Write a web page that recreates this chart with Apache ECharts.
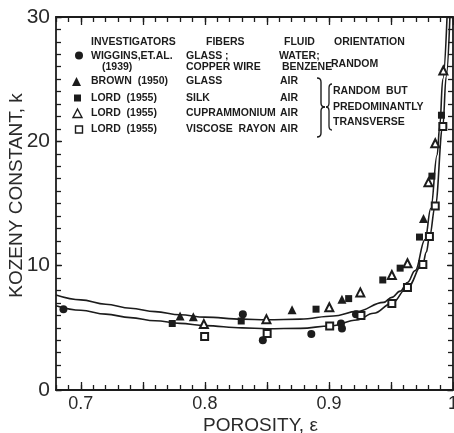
<!DOCTYPE html>
<html>
<head>
<meta charset="utf-8">
<script src="https://cdn.jsdelivr.net/npm/echarts@6/dist/echarts.min.js"></script>
<style>
  html, body { margin: 0; padding: 0; background: #fff; }
  #chart { width: 454px; height: 433px; }
</style>
</head>
<body>
<div id="chart"></div>
<script>
// Measured Kozeny constants, [porosity, k]
const wiggins1939 = [[0.686, 6.5], [0.8306, 6.1], [0.8467, 4.0], [0.8858, 4.5], [0.9097, 5.35], [0.9105, 4.95], [0.9218, 6.1]];
const brown1950 = [[0.780, 5.95], [0.7907, 5.9], [0.8703, 6.45], [0.9105, 7.3], [0.9762, 13.8]];
const lordSilk = [[0.7737, 5.35], [0.8293, 5.55], [0.8896, 6.5], [0.9159, 7.35], [0.9434, 8.85], [0.9574, 9.8], [0.973, 12.3], [0.983, 17.2], [0.9907, 22.1]];
const lordCupra = [[0.7992, 5.3], [0.8496, 5.7], [0.9003, 6.65], [0.9253, 7.85], [0.9507, 9.25], [0.9633, 10.2], [0.9802, 16.7], [0.9857, 19.85], [0.9922, 25.7]];
const lordViscose = [[0.7998, 4.3], [0.8502, 4.55], [0.9006, 5.15], [0.9258, 6.0], [0.9507, 6.95], [0.9633, 8.25], [0.9757, 10.1], [0.981, 12.35], [0.9857, 14.8], [0.9918, 21.2]];

// Theoretical curves, [porosity, k]
const upperCurve = [[0.68, 7.64], [0.70, 7.25], [0.72, 6.9], [0.74, 6.58], [0.76, 6.3], [0.78, 6.05], [0.80, 5.86], [0.83, 5.7], [0.85, 5.65], [0.877, 5.7], [0.9035, 5.95], [0.9226, 6.32], [0.944, 7.05], [0.9507, 7.45], [0.9574, 7.95], [0.9633, 8.65], [0.9695, 9.6], [0.9775, 12.1], [0.9821, 14.6], [0.9872, 18.9], [0.9893, 21.2], [0.9918, 25.0], [0.9952, 30]];
const lowerCurve = [[0.68, 6.78], [0.70, 6.42], [0.72, 6.1], [0.74, 5.82], [0.76, 5.57], [0.78, 5.36], [0.80, 5.18], [0.83, 5.0], [0.85, 4.93], [0.877, 4.96], [0.9011, 5.15], [0.9226, 5.63], [0.936, 6.17], [0.9507, 6.97], [0.9633, 8.25], [0.9757, 10.15], [0.9785, 11.1], [0.981, 12.3], [0.9857, 14.8], [0.9918, 21.2], [0.9945, 25.2], [0.9975, 30]];

// Axis ticks and labels
const xLabelValues = [0.7, 0.8, 0.9, 1.0];
const xMajorTicks = [0.7, 0.75, 0.8, 0.85, 0.9, 0.95, 1.0];
const xMinorTicks = [];
for (let i = 68; i <= 100; i++) xMinorTicks.push(i / 100);
const yLabelValues = [0, 10, 20, 30];
const yMinorTicks = [];
for (let i = 0; i <= 30; i++) yMinorTicks.push(i);

// Legend table text
const legendHeader = ['INVESTIGATORS', 'FIBERS', 'FLUID', 'ORIENTATION'];
const investigators = ['WIGGINS,ET.AL.', 'BROWN  (1950)', 'LORD  (1955)', 'LORD  (1955)', 'LORD  (1955)'];
const fibers = ['GLASS ;', 'GLASS', 'SILK', 'CUPRAMMONIUM', 'VISCOSE  RAYON'];
const fluids = ['WATER;', 'AIR', 'AIR', 'AIR', 'AIR'];
const orientationNote = ['RANDOM  BUT', 'PREDOMINANTLY', 'TRANSVERSE'];

const INK = '#1c1c1c';
const AX_FONT = 'Liberation Sans';
const TBL_FONT = 'bold 10.5px "Liberation Sans", Arial, sans-serif';

const chart = echarts.init(document.getElementById('chart'), null, { renderer: 'canvas' });

const gridBox = { left: 56, right: 1, top: 17, bottom: 43, outerBoundsMode: 'none' };

function xAx(gridIndex, position, ticks, len, showLine, labels, name) {
  return {
    type: 'value', gridIndex, position, min: 0.68, max: 1.0,
    axisLine: { show: showLine, onZero: false, lineStyle: { color: INK, width: 1.8 } },
    axisTick: { show: true, inside: true, length: len, customValues: ticks, lineStyle: { color: INK, width: 1.3 } },
    axisLabel: labels ? {
      show: true, customValues: xLabelValues, margin: 5, color: '#2a2a2a',
      fontFamily: AX_FONT, fontSize: 18,
      formatter: v => (Math.abs(v - 1) < 1e-9 ? '1' : v.toFixed(1))
    } : { show: false },
    splitLine: { show: false },
    name: name || '',
    nameLocation: 'middle', nameGap: 26, nameMoveOverlap: false,
    nameTextStyle: { color: '#2a2a2a', fontFamily: AX_FONT, fontSize: 19, padding: [0, 0, 0, 12] }
  };
}

function yAx(gridIndex, position, ticks, len, showLine, labels, name) {
  return {
    type: 'value', gridIndex, position, min: 0, max: 30,
    axisLine: { show: showLine, onZero: false, lineStyle: { color: INK, width: 1.8 } },
    axisTick: { show: true, inside: true, length: len, customValues: ticks, lineStyle: { color: INK, width: 1.3 } },
    axisLabel: labels ? {
      show: true, customValues: yLabelValues, margin: 6, color: '#2a2a2a',
      fontFamily: AX_FONT, fontSize: 21
    } : { show: false },
    splitLine: { show: false },
    name: name || '',
    nameLocation: 'middle', nameGap: 30, nameRotate: 90, nameMoveOverlap: false,
    nameTextStyle: { color: '#2a2a2a', fontFamily: AX_FONT, fontSize: 19, padding: [0, 0, 0, 16] }
  };
}

// Legend graphics
const graphics = [];
function txt(s, x, y, font) {
  graphics.push({ type: 'text', x, y, silent: true,
    style: { text: s, font: font || TBL_FONT, fill: INK, align: 'left', verticalAlign: 'middle' } });
}
const colX = [91, 206, 284, 334];
legendHeader.forEach((h, i) => txt(h, colX[i], 42));
const rowY = [56.5, 81.5, 98, 113.5, 129];
investigators.forEach((s, i) => txt(s, 91, rowY[i]));
txt('(1939)', 102, 67.5);
fibers.forEach((s, i) => txt(s, 186, rowY[i]));
txt('COPPER WIRE', 186, 67.5);
fluids.forEach((s, i) => txt(s, i === 0 ? 279 : 280, i === 0 ? 56 : rowY[i]));
txt('BENZENE', 282, 67.5);
txt('RANDOM', 331, 64);
orientationNote.forEach((s, i) => txt(s, 333, [91, 107, 122.5][i]));

// Curly braces built from straight and quadratic segments
function brace(xEdge, xMid, xTip, yTop, yMid, yBot, width) {
  const st = { stroke: INK, fill: null, lineWidth: width };
  const r = 4;
  graphics.push({ type: 'bezierCurve', silent: true, shape: { x1: xEdge, y1: yTop, x2: xMid, y2: yTop + r, cpx1: xMid, cpy1: yTop }, style: st });
  graphics.push({ type: 'line', silent: true, shape: { x1: xMid, y1: yTop + r, x2: xMid, y2: yMid - r }, style: st });
  graphics.push({ type: 'bezierCurve', silent: true, shape: { x1: xMid, y1: yMid - r, x2: xTip, y2: yMid, cpx1: xMid, cpy1: yMid }, style: st });
  graphics.push({ type: 'bezierCurve', silent: true, shape: { x1: xTip, y1: yMid, x2: xMid, y2: yMid + r, cpx1: xMid, cpy1: yMid }, style: st });
  graphics.push({ type: 'line', silent: true, shape: { x1: xMid, y1: yMid + r, x2: xMid, y2: yBot - r }, style: st });
  graphics.push({ type: 'bezierCurve', silent: true, shape: { x1: xMid, y1: yBot - r, x2: xEdge, y2: yBot, cpx1: xMid, cpy1: yBot }, style: st });
}
brace(317, 321, 325, 78, 107, 137, 1.4);
brace(332, 329, 326, 84, 107, 130, 1.3);

// Legend symbols
graphics.push({ type: 'circle', silent: true, shape: { cx: 79, cy: 55.5, r: 4 }, style: { fill: INK } });
graphics.push({ type: 'polygon', silent: true, shape: { points: [[76.5, 77], [81, 86], [72, 86]] }, style: { fill: INK } });
graphics.push({ type: 'rect', silent: true, shape: { x: 74, y: 94.5, width: 7, height: 7 }, style: { fill: INK } });
graphics.push({ type: 'polygon', silent: true, shape: { points: [[77.5, 109], [82, 117.5], [73, 117.5]] }, style: { fill: '#fff', stroke: INK, lineWidth: 1.4 } });
graphics.push({ type: 'rect', silent: true, shape: { x: 75.5, y: 126, width: 7, height: 7 }, style: { fill: '#fff', stroke: INK, lineWidth: 1.4 } });

function scatter(name, data, symbol, size) {
  return {
    type: 'scatter', name, data, symbol, symbolSize: size,
    xAxisIndex: 0, yAxisIndex: 0, z: 4,
    itemStyle: { color: INK, borderColor: INK, borderWidth: symbol.startsWith('empty') ? 1.4 : 0, opacity: 1 },
    emphasis: { disabled: true }
  };
}

function curve(name, data) {
  return {
    type: 'line', name, data, smooth: 0.4, smoothMonotone: 'x', showSymbol: false,
    xAxisIndex: 0, yAxisIndex: 0, z: 3, clip: true,
    lineStyle: { color: INK, width: 1.6 }, emphasis: { disabled: true }
  };
}

chart.setOption({
  animation: false,
  backgroundColor: '#fff',
  grid: [Object.assign({}, gridBox), Object.assign({}, gridBox)],
  xAxis: [
    xAx(0, 'bottom', xMajorTicks, 8, true, true, 'POROSITY, \u03b5'),
    xAx(0, 'top', xMajorTicks, 8, true, false),
    xAx(1, 'bottom', xMinorTicks, 5, false, false),
    xAx(1, 'top', xMinorTicks, 5, false, false)
  ],
  yAxis: [
    yAx(0, 'left', yLabelValues, 6, true, true, 'KOZENY CONSTANT, k'),
    yAx(0, 'right', yLabelValues, 6, true, false),
    yAx(1, 'left', yMinorTicks, 5, false, false),
    yAx(1, 'right', yMinorTicks, 5, false, false)
  ],
  series: [
    curve('upper', upperCurve),
    curve('lower', lowerCurve),
    scatter('Wiggins et al. (1939)', wiggins1939, 'circle', 8),
    scatter('Brown (1950)', brown1950, 'triangle', 9),
    scatter('Lord (1955) silk', lordSilk, 'rect', 7),
    scatter('Lord (1955) cuprammonium', lordCupra, 'emptyTriangle', 8),
    scatter('Lord (1955) viscose rayon', lordViscose, 'emptyRect', 7)
  ],
  graphic: graphics
});
</script>
</body>
</html>
